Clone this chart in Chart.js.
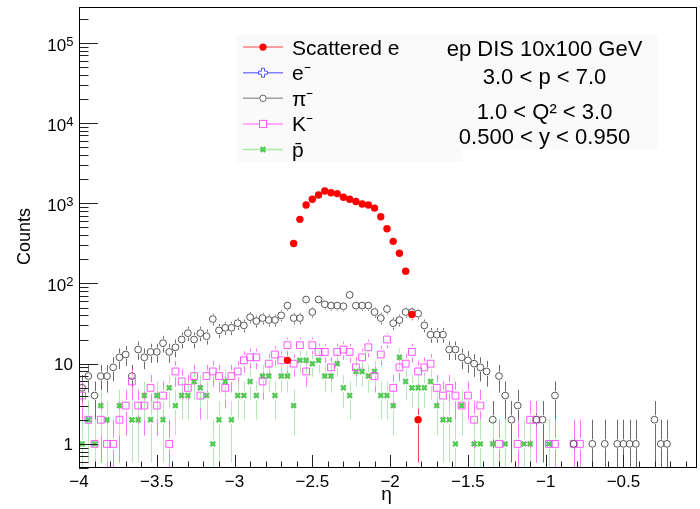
<!DOCTYPE html>
<html>
<head>
<meta charset="utf-8">
<script src="https://cdn.jsdelivr.net/npm/chart.js@4.4.0/dist/chart.umd.min.js"></script>
<style>
  html, body { margin: 0; padding: 0; background: #fff; overflow: hidden; }
  #wrap { width: 700px; height: 509px; }
</style>
</head>
<body>
<div id="wrap"><canvas id="etaChart" width="700" height="509"></canvas></div>
<script>
// eta histogram, 0.04 wide bins starting at -4
const etaMin = -4.0;
const etaMax = -0.045;
const binWidth = 0.04;
const yMin = 0.5;
const yMax = 2.8e5;

const xTickValues = [-4, -3.5, -3, -2.5, -2, -1.5, -1, -0.5];
const yTickValues = [1, 10, 100, 1000, 10000, 100000];
const yTickLabels = ['1', '10', '10^2', '10^3', '10^4', '10^5'];

// counts per bin (bin 0 = -4.00..-3.96)
const scatteredE = [
  0, 0, 0, 0, 0, 0, 0, 0, 0, 0,
  0, 0, 0, 0, 0, 0, 0, 0, 0, 0,
  0, 0, 0, 0, 0, 0, 0, 0, 0, 0,
  0, 0, 0, 11, 315, 630, 950, 1120, 1270, 1420,
  1350, 1320, 1190, 1120, 1050, 980, 950, 870, 680, 480,
  335, 238, 142, 41, 2, 0, 0, 0, 0, 0
];
const electron = [];
const pion = [
  5, 7, 4, 7, 7, 9, 12, 13, 7, 15,
  12, 14, 14, 18, 14, 16, 20, 24, 20, 24,
  22, 36, 26, 28, 28, 32, 30, 38, 34, 37,
  35, 35, 40, 53, 37, 37, 63, 44, 63, 55,
  53, 53, 52, 72, 53, 53, 53, 44, 37, 48,
  32, 35, 44, 44, 42, 30, 23, 23, 23, 15,
  15, 12, 11, 10, 9, 8, 2, 7, 4, 2,
  3, 0, 0, 2, 2, 0, 4, 0, 0, 1,
  0, 0, 1, 0, 1, 0, 1, 1, 1, 1,
  0, 0, 2, 1, 1, 0, 0, 0, 0, 0
];
const kaon = [
  4, 2, 1, 2, 1, 1, 2, 3, 6, 3,
  3, 5, 3, 4, 1, 8, 6, 5, 7, 4,
  7, 8, 7, 5, 7, 8, 11, 12, 12, 6,
  10, 13, 11, 17, 10, 17, 8, 17, 14, 14,
  9, 14, 15, 14, 9, 12, 16, 7, 13, 20,
  5, 9, 10, 14, 8, 9, 10, 5, 4, 5,
  4, 3, 4, 2, 3, 0, 0, 1, 0, 0,
  1, 0, 2, 2, 0, 1, 1, 0, 0, 1,
  1, 0, 0, 0, 0, 0, 0, 0, 0, 0
];
const antiproton = [
  1, 2, 1, 3, 2, 0, 3, 0, 2, 2,
  4, 2, 4, 2, 5, 3, 4, 4, 6, 5,
  4, 1, 2, 6, 2, 4, 4, 6, 4, 7,
  7, 4, 7, 7, 3, 11, 11, 10, 11, 7,
  7, 10, 5, 4, 8, 8, 7, 8, 4, 4,
  3, 12, 6, 5, 5, 5, 6, 3, 2, 2,
  1, 3, 0, 1, 1, 0, 1, 0, 1, 0,
  0, 1, 1, 0, 0, 1, 0, 0, 0, 0
];

const legendLabels = ['Scattered e', 'e⁻', 'π⁻', 'K⁻', 'p̄'];
const infoLines = ['ep DIS 10x100 GeV', '3.0 < p < 7.0', '1.0 < Q² < 3.0', '0.500 < y < 0.950'];

const FONT = '"Liberation Sans", Arial, Helvetica, sans-serif';

function toPoints(counts) {
    return counts
        .map((n, i) => ({ x: etaMin + binWidth * (i + 0.5), y: n }))
        .filter(p => p.y > 0);
}

// vertical sqrt(N) bars, not drawn through the marker
const errorBars = {
    id: 'errorBars',
    beforeDatasetsDraw(chart) {
        const { ctx, chartArea: a, scales: { y } } = chart;
        ctx.save();
        ctx.beginPath();
        ctx.rect(a.left, a.top, a.width, a.height);
        ctx.clip();
        chart.data.datasets.forEach((ds, di) => {
            const meta = chart.getDatasetMeta(di);
            ctx.strokeStyle = ds.errColor;
            ctx.lineWidth = 1;
            meta.data.forEach((pt, k) => {
                const n = ds.data[k].y;
                const e = Math.sqrt(n);
                const top = y.getPixelForValue(n + e);
                const bot = n - e > 0 ? y.getPixelForValue(n - e) : a.bottom;
                const gap = ds.pointRadius + 1;
                const px = Math.round(pt.x) + 0.5;
                ctx.beginPath();
                if (top < pt.y - gap) { ctx.moveTo(px, top); ctx.lineTo(px, pt.y - gap); }
                if (bot > pt.y + gap) { ctx.moveTo(px, pt.y + gap); ctx.lineTo(px, bot); }
                ctx.stroke();
            });
        });
        ctx.restore();
    }
};

// ROOT style frame with inside tick marks, and the 10^n labels
const frameTicks = {
    id: 'frameTicks',
    afterDatasetsDraw(chart) {
        const { ctx, chartArea: a, scales: { x, y } } = chart;
        ctx.save();
        ctx.strokeStyle = '#222';
        ctx.lineWidth = 1;
        ctx.beginPath();
        for (let k = 0; k <= 40; k++) {
            const v = etaMin + k * 0.1;
            if (v > etaMax) break;
            const px = Math.round(x.getPixelForValue(v)) + 0.5;
            const len = k % 5 === 0 ? 13 : 6.5;
            ctx.moveTo(px, a.bottom);
            ctx.lineTo(px, a.bottom - len);
        }
        for (let d = -1; d <= 5; d++) {
            for (let m = 1; m <= 9; m++) {
                const v = m * Math.pow(10, d);
                if (v < yMin || v > yMax) continue;
                const py = Math.round(y.getPixelForValue(v)) + 0.5;
                const len = m === 1 ? 19 : 9.5;
                ctx.moveTo(a.left, py);
                ctx.lineTo(a.left + len, py);
            }
        }
        ctx.stroke();
        ctx.strokeStyle = '#000';
        ctx.strokeRect(Math.round(a.left) + 0.5, Math.round(a.top) + 0.5,
            Math.round(a.width) + 2, Math.round(a.height) - 1);

        // y labels
        ctx.fillStyle = '#000';
        ctx.textBaseline = 'alphabetic';
        ctx.textAlign = 'right';
        const right = 73.5;
        yTickValues.forEach((v, i) => {
            const py = y.getPixelForValue(v);
            const [base, exp] = yTickLabels[i].split('^');
            if (exp) {
                ctx.font = '13px ' + FONT;
                const w = ctx.measureText(exp).width;
                ctx.fillText(exp, right, py + 3);
                ctx.font = '17px ' + FONT;
                ctx.fillText(base, right - w, py + 8);
            } else {
                ctx.font = '17px ' + FONT;
                ctx.fillText(base, right - 0.5, py + 6);
            }
        });
        ctx.restore();
    }
};

function drawMarker(ctx, style, cx, cy) {
    ctx.save();
    if (style === 'dot') {
        ctx.fillStyle = '#ff0000';
        ctx.beginPath(); ctx.arc(cx, cy, 3.6, 0, Math.PI * 2); ctx.fill();
    } else if (style === 'cross') {
        ctx.strokeStyle = '#5555ff'; ctx.lineWidth = 1;
        const s = 1.5, l = 4.5;
        ctx.beginPath();
        ctx.moveTo(cx - s, cy - l); ctx.lineTo(cx + s, cy - l); ctx.lineTo(cx + s, cy - s);
        ctx.lineTo(cx + l, cy - s); ctx.lineTo(cx + l, cy + s); ctx.lineTo(cx + s, cy + s);
        ctx.lineTo(cx + s, cy + l); ctx.lineTo(cx - s, cy + l); ctx.lineTo(cx - s, cy + s);
        ctx.lineTo(cx - l, cy + s); ctx.lineTo(cx - l, cy - s); ctx.lineTo(cx - s, cy - s);
        ctx.closePath(); ctx.fillStyle = '#fff'; ctx.fill(); ctx.stroke();
    } else if (style === 'circle') {
        ctx.strokeStyle = '#666'; ctx.fillStyle = '#fff'; ctx.lineWidth = 1;
        ctx.beginPath(); ctx.arc(cx, cy, 3.2, 0, Math.PI * 2); ctx.fill(); ctx.stroke();
    } else if (style === 'square') {
        ctx.strokeStyle = '#ff55ff'; ctx.fillStyle = '#fff'; ctx.lineWidth = 1;
        ctx.fillRect(cx - 3.5, cy - 3.5, 7, 7); ctx.strokeRect(cx - 3.5, cy - 3.5, 7, 7);
    } else {
        ctx.strokeStyle = '#55c855'; ctx.lineWidth = 2.5;
        ctx.beginPath();
        ctx.moveTo(cx - 2.3, cy - 2.3); ctx.lineTo(cx + 2.3, cy + 2.3);
        ctx.moveTo(cx + 2.3, cy - 2.3); ctx.lineTo(cx - 2.3, cy + 2.3);
        ctx.stroke();
    }
    ctx.restore();
}

const annotations = {
    id: 'annotations',
    afterDraw(chart) {
        const { ctx, chartArea: a } = chart;
        ctx.save();

        // axis titles
        ctx.fillStyle = '#000';
        ctx.font = '18px ' + FONT;
        ctx.textAlign = 'center';
        ctx.textBaseline = 'middle';
        ctx.save();
        ctx.translate(25.5, (a.top + a.bottom) / 2 - 1);
        ctx.rotate(-Math.PI / 2);
        ctx.fillText('Counts', 0, 0);
        ctx.restore();
        ctx.font = '19px ' + FONT;
        ctx.textBaseline = 'alphabetic';
        ctx.fillText('η', (a.left + a.right) / 2, 500);

        // legend and selection boxes
        ctx.fillStyle = '#fafafa';
        ctx.fillRect(236, 35, 226, 127);
        ctx.fillRect(430, 35, 228, 114);

        const lineColors = ['#ff8080', '#8080ff', '#a0a0a0', '#ff90ff', '#a8eaa8'];
        const markers = ['dot', 'cross', 'circle', 'square', 'x'];
        ctx.font = '21px ' + FONT;
        ctx.textAlign = 'left';
        legendLabels.forEach((label, i) => {
            const base = 54.5 + i * 25.6;
            const my = base - 7.4;
            ctx.strokeStyle = lineColors[i];
            ctx.lineWidth = 1.5;
            ctx.beginPath(); ctx.moveTo(243, my); ctx.lineTo(283, my); ctx.stroke();
            drawMarker(ctx, markers[i], 263, my);
            ctx.fillStyle = '#000';
            ctx.fillText(label, 292, base);
        });

        ctx.font = '22px ' + FONT;
        ctx.textAlign = 'center';
        const bases = [56, 84, 118.5, 143.5];
        infoLines.forEach((t, i) => ctx.fillText(t, 544.5, bases[i]));
        ctx.restore();
    }
};

const ctx = document.getElementById('etaChart').getContext('2d');

new Chart(ctx, {
    type: 'scatter',
    data: {
        datasets: [
            {
                label: 'Scattered e', data: toPoints(scatteredE), order: 0,
                pointStyle: 'circle', pointRadius: 3.7, pointHoverRadius: 3.7,
                backgroundColor: '#ff0000', borderColor: '#ff0000', borderWidth: 0,
                errColor: '#ff4040'
            },
            {
                label: 'e-', data: toPoints(electron), order: 1,
                pointStyle: 'crossRot', pointRadius: 3, borderColor: '#5555ff',
                errColor: '#8080ff'
            },
            {
                label: 'pi-', data: toPoints(pion), order: 2,
                pointStyle: 'circle', pointRadius: 3.4, pointHoverRadius: 3.4,
                backgroundColor: 'rgba(0,0,0,0)', borderColor: '#555', borderWidth: 1,
                errColor: '#6a6a6a'
            },
            {
                label: 'K-', data: toPoints(kaon), order: 3,
                pointStyle: 'rect', pointRadius: 4.8, pointHoverRadius: 4.8,
                backgroundColor: 'rgba(0,0,0,0)', borderColor: '#ff55ff', borderWidth: 1,
                errColor: '#ff77ff'
            },
            {
                label: 'pbar', data: toPoints(antiproton), order: 4,
                pointStyle: 'crossRot', pointRadius: 3.3, pointHoverRadius: 3.3,
                borderColor: '#55c855', borderWidth: 2.5,
                errColor: '#b4e8b4'
            }
        ]
    },
    options: {
        responsive: false,
        animation: false,
        events: [],
        devicePixelRatio: 1,
        layout: { padding: { top: 7, right: 0, bottom: 0, left: 0 } },
        plugins: { legend: { display: false }, tooltip: { enabled: false } },
        scales: {
            x: {
                type: 'linear',
                min: etaMin,
                max: etaMax,
                grid: { display: false, drawTicks: false },
                border: { display: false },
                afterBuildTicks: scale => { scale.ticks = xTickValues.map(v => ({ value: v })); },
                afterFit: scale => { scale.height = 41; },
                ticks: {
                    autoSkip: false,
                    maxRotation: 0,
                    padding: 4,
                    color: '#000',
                    font: { family: FONT, size: 17 },
                    callback: v => (v < 0 ? '\u2212' : '') + Math.abs(v)
                }
            },
            y: {
                type: 'logarithmic',
                min: yMin,
                max: yMax,
                grid: { display: false, drawTicks: false },
                border: { display: false },
                afterBuildTicks: scale => { scale.ticks = yTickValues.map(v => ({ value: v })); },
                afterFit: scale => { scale.width = 79; },
                ticks: { display: false }
            }
        }
    },
    plugins: [errorBars, frameTicks, annotations]
});
</script>
</body>
</html>
